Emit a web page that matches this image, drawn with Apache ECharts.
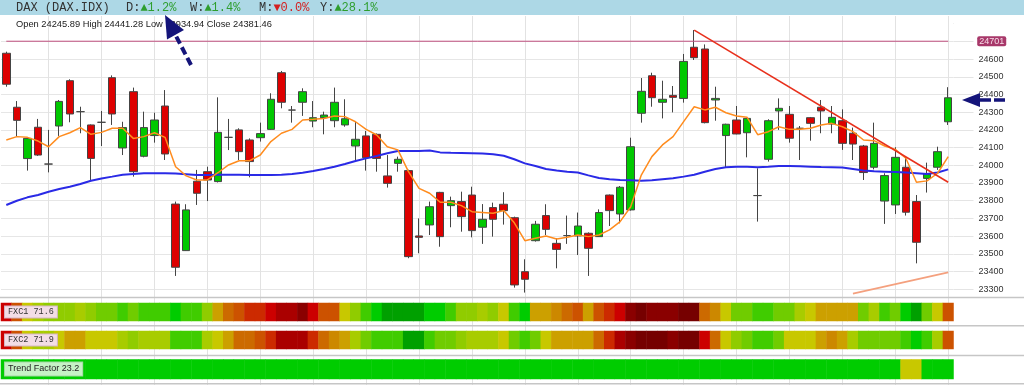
<!DOCTYPE html>
<html><head><meta charset="utf-8">
<script src="https://cdn.jsdelivr.net/npm/echarts@6/dist/echarts.min.js"></script>
<style>html,body{margin:0;padding:0;background:#fff}#c{width:1024px;height:385px}</style>
</head><body><div id="c"></div>
<script>
// ---------- DATA ----------
const categories = ['1','2','3','4','5','6','7','8','9','10','11','12','13','14','15','16','17','18','19','20',
'21','22','23','24','25','26','27','28','29','30','31','32','33','34','35','36','37','38','39','40',
'41','42','43','44','45','46','47','48','49','50','51','52','53','54','55','56','57','58','59','60',
'61','62','63','64','65','66','67','68','69','70','71','72','73','74','75','76','77','78','79','80',
'81','82','83','84','85','86','87','88','89','90'];

// [open, close, low, high]
const candles = [
[24633,24458,24444,24642],[24328,24254,24162,24363],[24038,24152,23970,24158],[24215,24058,24053,24262],[24007,24007,23960,24200],
[24222,24361,24166,24369],[24478,24290,24243,24486],[24303,24303,24181,24331],[24228,24039,23917,24231],[24243,24243,24109,24307],
[24495,24290,24228,24508],[24098,24213,24058,24246],[24416,23964,23936,24439],[24051,24213,24045,24303],[24168,24256,24128,24297],
[24335,24064,24030,24425],[23781,23424,23375,23795],[23518,23748,23516,23780],[23910,23842,23776,23974],[23964,23917,23798,23992],
[23908,24186,23903,24384],[24158,24158,24086,24262],[24200,24077,24030,24209],[24143,24021,23932,24152],[24156,24179,24134,24241],
[24203,24373,24200,24407],[24523,24356,24322,24533],[24312,24312,24241,24335],[24356,24416,24279,24435],[24250,24269,24215,24363],
[24269,24284,24175,24303],[24252,24356,24215,24439],[24228,24263,24218,24373],[24109,24147,24030,24246],[24166,24043,23970,24194],
[24175,24039,23964,24180],[23940,23898,23874,24058],[24011,24034,23964,24049],[23970,23484,23475,23975],[23601,23593,23503,23700],
[23663,23766,23606,23795],[23847,23597,23540,23850],[23772,23800,23650,23823],[23795,23710,23625,23851],[23832,23631,23593,23879],
[23650,23695,23556,23781],[23761,23695,23597,23789],[23780,23744,23665,23848],[23704,23324,23309,23710],[23399,23356,23281,23469],
[23574,23667,23569,23686],[23716,23638,23606,23780],[23559,23525,23418,23588],[23603,23603,23556,23716],[23601,23657,23493,23733],
[23616,23531,23375,23621],[23597,23733,23595,23751],[23832,23744,23657,23835],[23725,23876,23672,23883],[23748,24105,23744,24156],
[24294,24418,24241,24493],[24506,24382,24331,24523],[24356,24373,24265,24478],[24395,24384,24299,24448],[24378,24587,24354,24629],
[24667,24608,24595,24764],[24657,24241,24237,24683],[24369,24378,24252,24444],[24168,24232,23989,24235],[24256,24177,24175,24335],
[24184,24265,24045,24269],[23829,23829,23682,23983],[24034,24252,24021,24260],[24307,24322,24200,24378],[24288,24153,24128,24335],
[24209,24209,24030,24222],[24269,24237,24139,24273],[24328,24307,24181,24369],[24233,24271,24181,24335],[24252,24124,24087,24316],
[24181,24120,24030,24213],[24109,23959,23917,24115],[23989,24124,23977,24241],[23798,23942,23669,23955],[23776,24045,23725,24102],
[23989,23735,23716,24049],[23795,23565,23446,23832],[23926,23951,23846,24015],[23989,24077,23974,24105],[24245.89,24381.46,24228,24441.28]
];

const fastAvg = [24143,24162,24158,24137,24105,24162,24184,24213,24175,24186,
24209,24209,24152,24162,24184,24158,23992,23940,23917,23917,
23958,24002,24026,24026,24058,24134,24181,24203,24256,24260,
24265,24279,24275,24246,24203,24171,24105,24087,23964,23870,
23842,23791,23791,23772,23738,23734,23729,23745,23675,23574,
23588,23601,23584,23593,23606,23597,23606,23635,23682,23766,
23945,24049,24115,24162,24247,24331,24313,24328,24297,24279,
24271,24173,24190,24218,24203,24203,24209,24228,24237,24218,
24190,24143,24139,24109,24090,24040,23904,23912,23955,24049];

const slowAvg = [23776,23800,23819,23832,23851,23866,23879,23894,23913,23926,
23936,23947,23951,23955,23955,23955,23953,23949,23945,23945,
23947,23947,23947,23945,23945,23945,23947,23951,23958,23968,
23979,23992,24007,24024,24039,24053,24068,24081,24081,24081,
24083,24073,24071,24070,24068,24066,24062,24054,24034,24011,
23996,23979,23970,23964,23959,23943,23928,23921,23917,23915,
23913,23915,23921,23927,23936,23947,23964,23979,23989,23992,
23992,23989,23992,23996,23996,23994,23992,23990,23989,23987,
23979,23970,23966,23964,23962,23959,23955,23951,23959,23977];

const resistanceLevel = 24701;
const trendLineFrom = [65, 24764];
const trendLineTo = [89, 23904];
const supportLineFrom = [80, 23275];
const supportLineTo = [89, 23395];

// strip levels: 0 = strongest red ... 15 = strongest green
const stripPalette = ['#760000','#8a0000','#aa0000','#cc0000','#cc2a00','#cc5200','#cc6a00','#cc8800',
                      '#cca000','#c8c800','#a8cc00','#90cc00','#70cc00','#40cc00','#00cc00','#00a000'];
const fxc1Levels = [3,5,9,10,11,11,11,10,11,12, 12,13,12,13,13,13,14,13,13,11, 8,6,5,4,4,3,2,2,1,3,
 5,5,9,11,13,14,15,15,15,15, 14,14,13,11,11,10,11,9,13,14, 8,8,7,6,5,8,5,4,3,1,
 0,1,1,1,0,0,6,7,9,12, 12,13,13,12,12,10,9,8,8,8, 8,12,10,13,12,14,15,12,9,5];
const fxc2Levels = [3,5,9,10,10,9,8,8,9,9, 9,10,11,10,10,10,13,13,13,10, 9,8,6,6,5,4,2,2,2,4,
 6,7,8,10,12,13,13,13,15,15, 13,12,12,11,10,10,10,9,12,13, 12,9,8,8,8,8,6,4,2,1,
 0,0,0,1,0,0,3,6,9,11, 12,13,13,12,9,9,9,8,7,8, 10,12,12,12,12,13,14,13,10,5];
const trendLevels = [14,14,14,14,14,14,14,14,14,14, 14,14,14,14,14,14,14,14,14,14, 14,14,14,14,14,14,14,14,14,14,
 14,14,14,14,14,14,14,14,14,14, 14,14,14,14,14,14,14,14,14,14, 14,14,14,14,14,14,14,14,14,14,
 14,14,14,14,14,14,14,14,14,14, 14,14,14,14,14,14,14,14,14,14, 14,14,14,14,14,9,9,14,14,14];

const symbolName = 'DAX (DAX.IDX)';
const periodNames = ['D','W','M','Y'];
const periodChanges = [1.2, 1.4, 0.0, 28.1];
const periodUp = [true, true, false, true];
const ohlcLabels = ['Open','High','Low','Close'];
const ohlcValues = ['24245.89','24441.28','23934.94','24381.46'];
const fxc1Value = '71.6', fxc2Value = '71.9', trendFactorValue = '23.2';

const yMin = 23200, yMax = 24800, yStep = 100;
const hiddenTicks = [23200, 24700, 24800];

// ---------- CHART ----------
const chart = echarts.init(document.getElementById('c'), null, {renderer:'canvas'});
const L = 1, R = 70.5;
const mono = '"Liberation Mono","DejaVu Sans Mono",monospace';
const sans = '"Liberation Sans",Arial,sans-serif';
const hidX = {axisLine:{show:false},axisTick:{show:false},axisLabel:{show:false},splitLine:{show:false}};
const purple = '#c0507e';

const graphics = [];
graphics.push({type:'rect', z:100, shape:{x:0,y:0,width:1024,height:15}, style:{fill:'#add8e6'}});
graphics.push({type:'text', z:101, x:16, y:8, style:{text:symbolName, fontFamily:mono, fontSize:12, fill:'#333', verticalAlign:'middle'}});
const px = [126, 190, 259, 320];
periodNames.forEach((p,i)=>{
  graphics.push({type:'text', z:101, x:px[i], y:8, style:{text:p+':', fontFamily:mono, fontSize:12, fill:'#333', verticalAlign:'middle'}});
  graphics.push({type:'text', z:101, x:px[i]+14.4, y:8, style:{text:(periodUp[i]?'▲':'▼')+periodChanges[i].toFixed(1)+'%', fontFamily:mono, fontSize:12, fill:periodUp[i]?'#2e9e2e':'#d42020', verticalAlign:'middle'}});
});
graphics.push({type:'text', z:101, x:16, y:24, style:{text:ohlcLabels.map((l,i)=>l+' '+ohlcValues[i]).join(' '), fontFamily:sans, fontSize:9.3, fill:'#1a1a1a', verticalAlign:'middle'}});
// right covers + separators
graphics.push({type:'rect', z:40, shape:{x:954,y:296,width:70,height:89}, style:{fill:'#fff'}});
graphics.push({type:'rect', z:40, shape:{x:954,y:16,width:70,height:14}, style:{fill:'#fff'}});
[297.5, 325.8, 355.5, 383.7].forEach(y=>{
  graphics.push({type:'line', z:60, shape:{x1:0,y1:y,x2:1024,y2:y}, style:{stroke:'#c6c6c6', lineWidth:1.5}});
});
// strip labels
graphics.push({type:'text', z:120, x:5, y:312, style:{text:'FXC1 '+fxc1Value, fontFamily:mono, fontSize:8.5, fill:'#333', verticalAlign:'middle', backgroundColor:'#f3dde6', borderColor:'#d6b6c4', borderWidth:1, padding:[1,3,1,3]}});
graphics.push({type:'text', z:120, x:5, y:340, style:{text:'FXC2 '+fxc2Value, fontFamily:mono, fontSize:8.5, fill:'#333', verticalAlign:'middle', backgroundColor:'#f3dde6', borderColor:'#d6b6c4', borderWidth:1, padding:[1,3,1,3]}});
graphics.push({type:'text', z:120, x:5, y:369, style:{text:'Trend Factor '+trendFactorValue, fontFamily:sans, fontSize:9, fill:'#222', verticalAlign:'middle', backgroundColor:'#c6f2c6', borderColor:'#a2d8a2', borderWidth:1, padding:[2,3,2,3]}});
// arrows
graphics.push({type:'line', z:130, shape:{x1:191,y1:65,x2:176,y2:36}, style:{stroke:'#14147a', lineWidth:4, lineDash:[8,4]}});
graphics.push({type:'polygon', z:130, shape:{points:[[165,15],[184,30],[167,39.5]]}, style:{fill:'#14147a'}});
graphics.push({type:'polygon', z:130, shape:{points:[[962,100],[980,93],[980,107]]}, style:{fill:'#14147a'}});
graphics.push({type:'line', z:130, shape:{x1:980,y1:100,x2:1008,y2:100}, style:{stroke:'#14147a', lineWidth:3.5, lineDash:[11,3]}});

const strip = (levels)=>levels.map((v,i)=>[i,0,v]);
const resistanceData = [[0, resistanceLevel], [candles.length - 1, resistanceLevel]];

chart.setOption({
  animation:false,
  backgroundColor:'#fff',
  grid:[
    {left:6.3, right:75.8, top:16, bottom:0},
    {left:L, right:R, top:23.7, bottom:78.1},
    {left:L, right:R, top:303, height:18},
    {left:L, right:R, top:331, height:18},
    {left:L, right:R, top:359.5, height:19.5}
  ],
  xAxis:[
    Object.assign({gridIndex:0, type:'category', data:categories, boundaryGap:false}, hidX,
      {splitLine:{show:true, interval:(i)=>i%5===4, lineStyle:{color:'#e2e2e2', width:1}}}),
    Object.assign({gridIndex:1, type:'category', data:categories, boundaryGap:true}, hidX),
    Object.assign({gridIndex:2, type:'category', data:categories}, hidX),
    Object.assign({gridIndex:3, type:'category', data:categories}, hidX),
    Object.assign({gridIndex:4, type:'category', data:categories}, hidX)
  ],
  yAxis:[
    {gridIndex:0, type:'value', show:false},
    {gridIndex:1, type:'value', position:'right', min:yMin, max:yMax, interval:yStep,
      axisLine:{show:false},
      axisTick:{show:true, length:20, lineStyle:{color:'#e4e4e4'}},
      axisLabel:{margin:25, fontSize:9, color:'#333', fontFamily:sans,
        formatter:(v)=>hiddenTicks.indexOf(v)>=0?'':String(v)},
      splitLine:{show:true, showMinLine:false, showMaxLine:false, lineStyle:{color:'#e6e6e6', width:1}}},
    Object.assign({gridIndex:2, type:'category', data:['FXC1']}, hidX),
    Object.assign({gridIndex:3, type:'category', data:['FXC2']}, hidX),
    Object.assign({gridIndex:4, type:'category', data:['TF']}, hidX)
  ],
  visualMap:{type:'piecewise', show:false, seriesIndex:[4,5,6], dimension:2,
    pieces: stripPalette.map((c,i)=>({value:i, color:c}))},
  series:[
    {type:'line', xAxisIndex:1, yAxisIndex:1, data:resistanceData, showSymbol:false, silent:true,
      lineStyle:{color:purple, width:1}, itemStyle:{color:purple},
      endLabel:{show:true, distance:29, formatter:String(resistanceLevel), fontSize:9, fontFamily:sans,
        color:'#f6dde8', backgroundColor:'#a8386a', padding:[1,2,0,2], borderRadius:2}},
    {type:'candlestick', xAxisIndex:1, yAxisIndex:1, data:candles, barWidth:8,
      itemStyle:{color:'#00c800', color0:'#dd0000', borderColor:'#444', borderColor0:'#444', borderColorDoji:'#444', borderWidth:1},
      markLine:{silent:true, symbol:['none','none'], animation:false,
        data:[
          [{coord:trendLineFrom, lineStyle:{color:'#e8301c', width:1.6, type:'solid'}, label:{show:false}},
           {coord:trendLineTo, lineStyle:{color:'#e8301c', width:1.6, type:'solid'}, label:{show:false}}],
          [{coord:supportLineFrom, lineStyle:{color:'#f4a07e', width:1.6, type:'solid'}, label:{show:false}},
           {coord:supportLineTo, lineStyle:{color:'#f4a07e', width:1.6, type:'solid'}, label:{show:false}}]
        ]}},
    {type:'line', xAxisIndex:1, yAxisIndex:1, data:slowAvg, showSymbol:false, lineStyle:{color:'#2a2ae6', width:2}, silent:true},
    {type:'line', xAxisIndex:1, yAxisIndex:1, data:fastAvg, showSymbol:false, lineStyle:{color:'#ff8c1e', width:1.5}, silent:true},
    {type:'heatmap', xAxisIndex:2, yAxisIndex:2, data:strip(fxc1Levels), silent:true, itemStyle:{borderWidth:0}, z:10},
    {type:'heatmap', xAxisIndex:3, yAxisIndex:3, data:strip(fxc2Levels), silent:true, itemStyle:{borderWidth:0}, z:10},
    {type:'heatmap', xAxisIndex:4, yAxisIndex:4, data:strip(trendLevels), silent:true, itemStyle:{borderWidth:0}, z:10}
  ],
  graphic:{elements:graphics}
});
</script></body></html>
